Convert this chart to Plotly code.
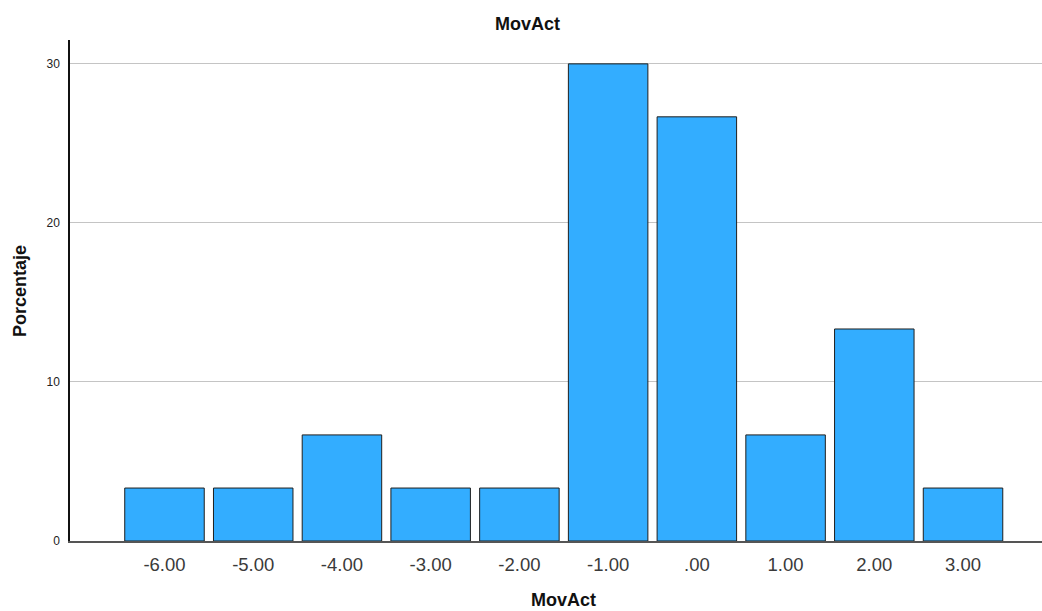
import plotly.graph_objects as go

categories = [-6, -5, -4, -3, -2, -1, 0, 1, 2, 3]
tick_labels = ["-6.00", "-5.00", "-4.00", "-3.00", "-2.00", "-1.00", ".00", "1.00", "2.00", "3.00"]
percentages = [3.33, 3.33, 6.67, 3.33, 3.33, 30.0, 26.67, 6.67, 13.33, 3.33]
y_ticks = [0, 10, 20, 30]

FONT = "Liberation Sans, Arial, sans-serif"

fig = go.Figure()
fig.add_trace(go.Bar(
    x=categories, y=percentages, width=0.896,
    marker=dict(color="#33ADFF", line=dict(color="#1f1f1f", width=1)),
    hoverinfo="x+y",
))

fig.update_layout(
    width=1042, height=611,
    margin=dict(l=70, r=0, t=40, b=70),
    plot_bgcolor="white", paper_bgcolor="white",
    showlegend=False,
    font=dict(family=FONT, color="#333333"),
    xaxis=dict(
        range=[-7.065, 3.89], tickvals=categories, ticktext=tick_labels,
        showgrid=False, zeroline=False, showline=True, linecolor="#555555", linewidth=2,
        ticks="", tickfont=dict(size=18.5, color="#3a3a3a"), ticklabelstandoff=6,
    ),
    yaxis=dict(
        range=[0, 31.5], tickvals=y_ticks, showgrid=True, gridcolor="#c4c4c4", gridwidth=1,
        zeroline=False, showline=True, linecolor="#111111", linewidth=1.5,
        ticks="", tickfont=dict(size=12, color="#222222"), ticklabelstandoff=6,
    ),
    annotations=[
        dict(text="<b>MovAct</b>", xref="paper", yref="paper", x=0.471, y=1 + 16/501,
             xanchor="center", yanchor="middle", showarrow=False, font=dict(size=18, color="#111111")),
        dict(text="<b>MovAct</b>", xref="paper", yref="paper", x=0.508, y=-59/501,
             xanchor="center", yanchor="middle", showarrow=False, font=dict(size=18, color="#111111")),
        dict(text="<b>Porcentaje</b>", xref="paper", yref="paper", x=-50/972, y=0.499,
             xanchor="center", yanchor="middle", textangle=-90, showarrow=False,
             font=dict(size=18, color="#111111")),
    ],
)

fig.write_html(
    "out.html",
    config={"displayModeBar": False},
    post_script="document.body.style.margin='0';document.body.style.overflow='hidden';",
)
